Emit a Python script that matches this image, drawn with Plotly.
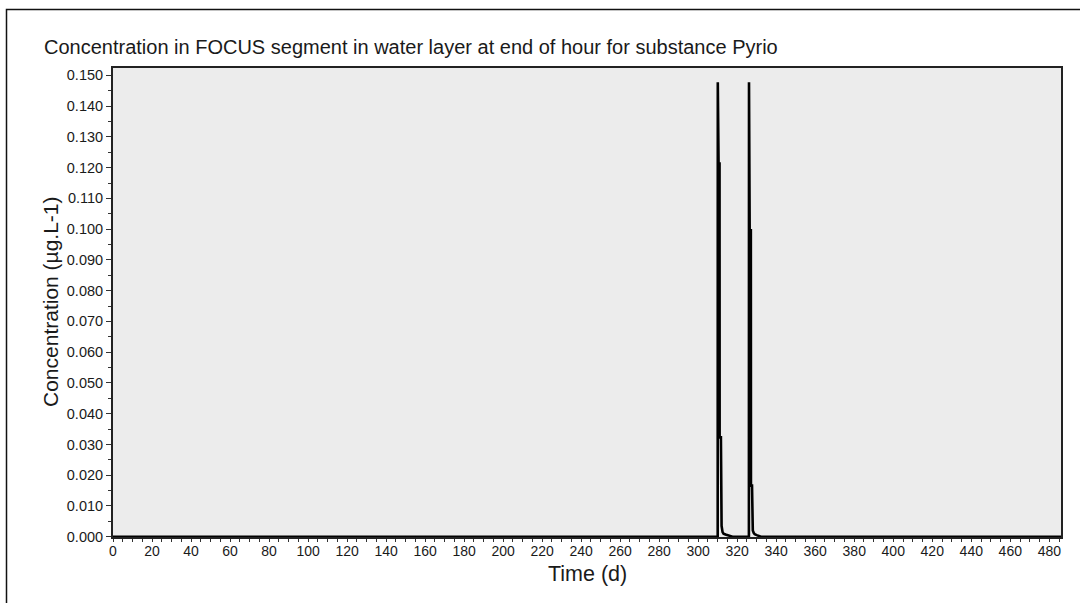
import plotly.graph_objects as go

# Hourly concentration series (key points), time in days
time_d = [0, 310.0, 310.05, 310.45, 310.95, 311.0, 311.65, 311.7, 312.0, 312.5,
          313.0, 314.0, 315.0, 316.0, 317.0, 317.6,
          326.0, 326.05, 326.4, 327.0, 327.05, 327.6, 327.65, 328.0, 328.5,
          329.0, 330.0, 331.0, 332.0, 332.2, 486]
conc = [0, 0, 0.1478, 0.1213, 0.1213, 0.0323, 0.0323, 0.0041, 0.0035, 0.0015,
        0.0010, 0.0007, 0.0005, 0.0003, 0.0002, 0,
        0, 0.1478, 0.0996, 0.0996, 0.0166, 0.0166, 0.0023, 0.0020, 0.0012,
        0.0008, 0.0005, 0.0003, 0.0001, 0, 0]

title_text = "Concentration in FOCUS segment in water layer at end of hour for substance Pyrio"
x_title = "Time (d)"
y_title = "Concentration (µg.L-1)"
x_ticks = list(range(0, 481, 20))
y_ticks = [round(i * 0.01, 3) for i in range(16)]

FONT = "Liberation Sans, Arial, sans-serif"

fig = go.Figure()
fig.add_trace(go.Scatter(x=time_d, y=conc, mode="lines",
                         line=dict(color="black", width=2.6), hoverinfo="skip"))

fig.update_layout(
    width=1080, height=603,
    margin=dict(l=113, r=19, t=68, b=66),
    paper_bgcolor="white", plot_bgcolor="#ececec",
    showlegend=False,
    font=dict(family=FONT, color="#1a1a1a", size=13),
)
fig.update_xaxes(
    range=[0, 486], tickmode="array", tickvals=x_ticks,
    ticktext=[str(v) for v in x_ticks],
    ticks="outside", ticklen=3, tickwidth=1, tickcolor="#333",
    ticklabelstandoff=-3,
    minor=dict(dtick=5, tick0=0, ticks="outside", ticklen=3, tickcolor="#333"),
    showgrid=False, zeroline=False,
    showline=True, linecolor="#222", linewidth=2, mirror=True,
    tickfont=dict(size=14, family=FONT, color="#1a1a1a"),
)
fig.update_yaxes(
    range=[-0.0001, 0.1524], tickmode="array", tickvals=y_ticks,
    ticktext=[f"{v:.3f}" for v in y_ticks],
    ticks="outside", ticklen=5, tickwidth=1, tickcolor="#333",
    minor=dict(dtick=0.005, tick0=0, ticks="outside", ticklen=3, tickcolor="#333"),
    showgrid=False, zeroline=False,
    showline=True, linecolor="#222", linewidth=2, mirror=True,
    tickfont=dict(size=14.5, family=FONT, color="#1a1a1a"),
)

fig.add_annotation(text=title_text, xref="paper", yref="paper",
                   x=-(113 - 42) / 948, y=1 + (68 - 47) / 469,
                   xanchor="left", yanchor="middle", showarrow=False,
                   font=dict(size=20, family=FONT, color="#1a1a1a"))
fig.add_annotation(text=x_title, xref="paper", yref="paper",
                   x=0.5, y=-(574 - 537) / 469, xanchor="center", yanchor="middle",
                   showarrow=False, font=dict(size=21.5, family=FONT, color="#1a1a1a"))
fig.add_annotation(text=y_title, xref="paper", yref="paper",
                   x=-(113 - 50) / 948, y=1 - (302 - 68) / 469, xanchor="center", yanchor="middle",
                   textangle=-90, showarrow=False,
                   font=dict(size=21, family=FONT, color="#1a1a1a"))

# outer frame (clipped at right and bottom in the reference)
fig.add_shape(type="rect", xref="paper", yref="paper",
              x0=-(113 - 6.5) / 948, x1=1 + (19 + 10) / 948,
              y0=-(66 + 10) / 469, y1=1 + (68 - 9.5) / 469,
              line=dict(color="#111", width=1.5), fillcolor="rgba(0,0,0,0)", layer="below")

fig.write_html("out.html")
